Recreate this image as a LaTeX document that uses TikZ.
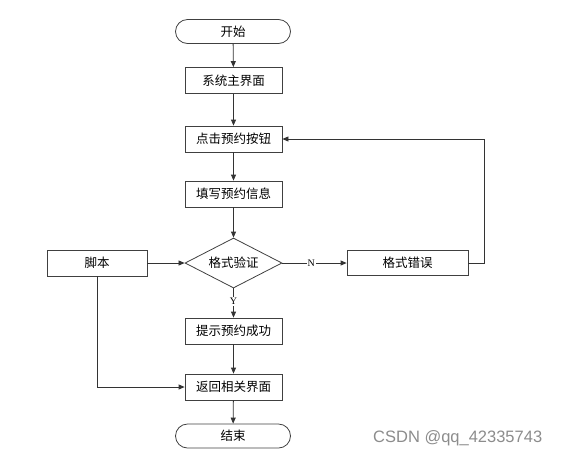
\documentclass[tikz,border=0pt]{standalone}
\usepackage{fontspec}
\setmainfont{Liberation Serif}
\newfontfamily\cjk{Noto Sans CJK SC}
\newfontfamily\wm{Liberation Sans}
\usetikzlibrary{shapes.geometric,shapes.misc,arrows.meta}
\begin{document}
\begin{tikzpicture}[x=1pt,y=-1pt,
  box/.style={draw=black!75,line width=0.8pt,minimum width=97pt,minimum height=26pt,inner sep=0pt,font=\cjk\fontsize{12.5}{14}\selectfont},
  term/.style={draw=black!75,line width=0.8pt,rounded rectangle,minimum width=115pt,minimum height=24pt,inner sep=0pt,font=\cjk\fontsize{12.5}{14}\selectfont},
  dia/.style={draw=black!75,line width=0.8pt,diamond,aspect=1.94,minimum width=97pt,minimum height=50pt,inner sep=0pt,font=\cjk\fontsize{12.5}{14}\selectfont},
  conn/.style={draw=black!80,line width=0.8pt,-{Triangle[length=6pt,width=5pt]}},
  lbl/.style={font=\fontsize{10}{11}\selectfont,fill=white,inner sep=1pt}]
\useasboundingbox (0,0) rectangle (561,456);
\node[term] (start) at (233,31.5) {开始};
\node[box] (main) at (233.5,80.5) {系统主界面};
\node[box] (click) at (233.5,139) {点击预约按钮};
\node[box] (fill) at (233.5,194) {填写预约信息};
\node[dia] (check) at (233.5,263) {格式验证};
\node[box,minimum width=100pt] (script) at (97,263) {脚本};
\node[box,minimum width=121pt,minimum height=25pt] (err) at (407.5,263) {格式错误};
\node[box] (ok) at (233.5,331) {提示预约成功};
\node[box] (ret) at (233.5,387) {返回相关界面};
\node[term] (end) at (233,436) {结束};
\coordinate (c1) at (484,263);
\coordinate (c2) at (484,139);
\coordinate (c3) at (97,387);
\draw[conn] (start) -- (main);
\draw[conn] (main) -- (click);
\draw[conn] (click) -- (fill);
\draw[conn] (fill) -- (check);
\draw[conn] (script) -- (check);
\draw[conn] (check) -- node[lbl,pos=0.45]{N} (err);
\draw[conn] (check) -- node[lbl,pos=0.45]{Y} (ok);
\draw[conn] (ok) -- (ret);
\draw[conn] (ret) -- (end);
\draw[conn] (err.east) -- (c1) -- (c2) -- (click.east);
\draw[conn] (script.south) -- (c3) -- (ret.west);
\node[font=\wm\fontsize{16.5}{18}\selectfont,text=black!45,anchor=west,inner sep=0pt] (wm) at (373,438) {CSDN @qq\_42335743};
\end{tikzpicture}
\end{document}
